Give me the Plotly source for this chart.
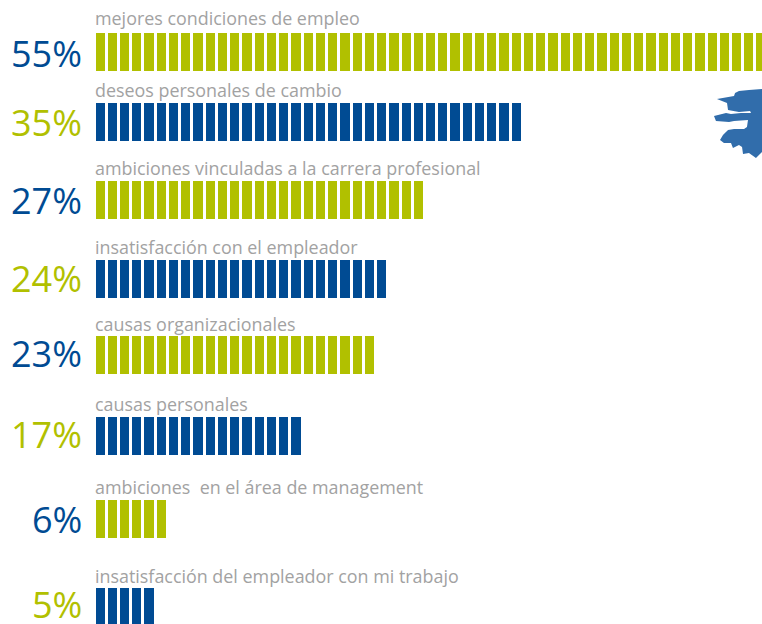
import plotly.graph_objects as go

W, H = 762, 624

labels = [
    "mejores condiciones de empleo",
    "deseos personales de cambio",
    "ambiciones vinculadas a la carrera profesional",
    "insatisfacción con el empleador",
    "causas organizacionales",
    "causas personales",
    "ambiciones  en el área de management",
    "insatisfacción del empleador con mi trabajo",
]
values = [55, 35, 27, 24, 23, 17, 6, 5]

GREEN = "#b1c000"
BLUE = "#004b93"
bar_colors = [GREEN, BLUE, GREEN, BLUE, GREEN, BLUE, GREEN, BLUE]
pct_colors = [BLUE, GREEN, BLUE, GREEN, BLUE, GREEN, BLUE, GREEN]

# rows are not evenly spaced in the original, y axis runs in pixels
row_y = [52, 122, 200, 279, 355, 436, 519, 607]
label_y = [18, 90, 168, 247, 324, 404, 487, 576]
pct_y = [53, 122, 200, 278, 353, 434, 519, 604]

# decorative map fragment at the right edge, in page pixels
map_x = [762, 749, 739, 735, 734, 717, 727, 728, 739, 750, 751, 741, 731, 726, 714, 716, 729, 734, 748, 747, 744, 734, 728, 723, 720, 724, 731, 733, 739, 742, 743, 749, 756, 762]
map_y = [89, 90, 91, 93, 96, 99, 103, 110, 112, 111, 113, 113, 114, 113, 116, 121, 122, 121, 120, 127, 129, 129, 130, 135, 140, 143, 143, 148, 145, 147, 154, 153, 158, 152]

unit = 12.24
x0 = 94.5

fig = go.Figure()

for label, value, color, y in zip(labels, values, bar_colors, row_y):
    fig.add_trace(go.Bar(
        y=[y] * value,
        x=[1] * value,
        base=list(range(value)),
        orientation="h",
        width=41,
        name=label,
        marker=dict(color=color, line=dict(color="white", width=3)),
        showlegend=False,
        hoverinfo="skip",
    ))

for label, value, color, ly, py in zip(labels, values, pct_colors, label_y, pct_y):
    fig.add_annotation(
        x=0, y=ly, xref="x", yref="y", text=label, showarrow=False,
        xanchor="left", yanchor="middle", xshift=-1.5,
        font=dict(family="Open Sans", size=17.9, color="#a2a2a2"),
    )
    fig.add_annotation(
        x=0, y=py, xref="x", yref="y", text=f"{value}%", showarrow=False,
        xanchor="right", yanchor="middle", xshift=-11,
        font=dict(family="Open Sans", size=36, color=color),
    )

path = "M " + " L ".join(f"{x / W:.4f},{1 - y / H:.4f}" for x, y in zip(map_x, map_y)) + " Z"
fig.add_shape(type="path", path=path, xref="paper", yref="paper",
              fillcolor="#316dab", line=dict(width=0))

fig.update_layout(
    width=W,
    height=H,
    margin=dict(l=0, r=0, t=0, b=0),
    barmode="overlay",
    bargap=0,
    paper_bgcolor="white",
    plot_bgcolor="white",
    xaxis=dict(range=[-x0 / unit, (W - x0) / unit], visible=False, fixedrange=True),
    yaxis=dict(range=[H, 0], visible=False, fixedrange=True),
)

fig.write_html("out.html", config=dict(displayModeBar=False), default_width=W, default_height=H,
               include_plotlyjs=True, post_script="document.body.style.margin='0';")
